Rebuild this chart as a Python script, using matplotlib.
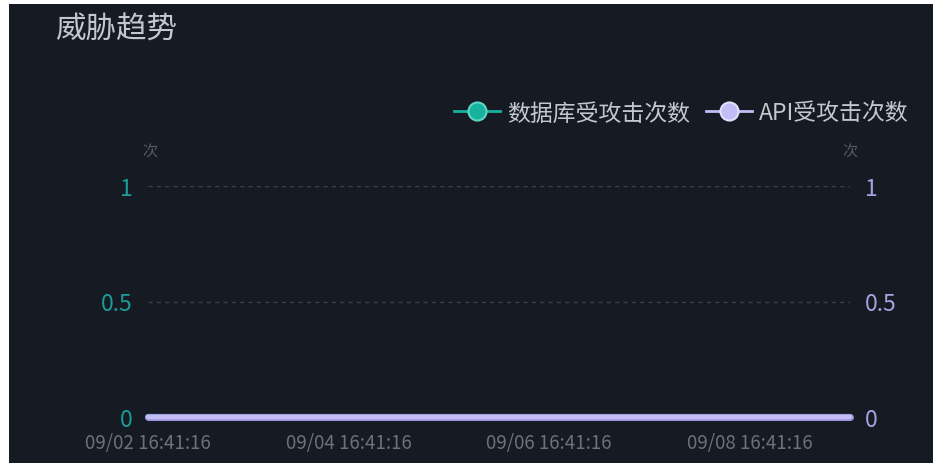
import matplotlib
matplotlib.use('Agg')
import matplotlib.pyplot as plt
from matplotlib.lines import Line2D
from matplotlib.patches import Rectangle

plt.rcParams['font.family'] = ['Noto Sans CJK SC', 'DejaVu Sans']

title = '威胁趋势'
unit = '次'
days = [0, 1, 2, 3, 4, 5, 6, 7]
db_attacks = [0, 0, 0, 0, 0, 0, 0, 0]
api_attacks = [0, 0, 0, 0, 0, 0, 0, 0]
tick_days = [0, 2, 4, 6]
tick_labels = ['09/02 16:41:16', '09/04 16:41:16', '09/06 16:41:16', '09/08 16:41:16']
y_ticks = [0, 0.5, 1]
y_labels = ['0', '0.5', '1']
series_names = ['数据库受攻击次数', 'API受攻击次数']

BG = '#151a23'
TEAL = '#17b29e'
TEAL_TXT = '#1c9c98'
LAV = '#c4bdf5'
LAV_TXT = '#a8a2e2'
GRAY = '#6c717b'


def main():
    fig = plt.figure(figsize=(9.33, 4.64), dpi=100, facecolor='white')
    fig.patches.append(Rectangle((9 / 933, 0), 1, 1 - 5 / 464, transform=fig.transFigure,
                                 facecolor=BG, edgecolor='none', zorder=-10))

    ax = fig.add_axes([148 / 933, 46 / 464, 702 / 933, 231 / 464])
    ax.set_facecolor('none')
    ax.plot(days, db_attacks, color=TEAL, lw=4.5, solid_capstyle='round', zorder=3, clip_on=False)
    ax.plot(days, api_attacks, color='#9f97e0', lw=5, solid_capstyle='round', zorder=4, clip_on=False)
    ax.plot(days, api_attacks, color=LAV, lw=3.2, solid_capstyle='round', zorder=5, clip_on=False)
    ax.set_xlim(0, 7)
    ax.set_ylim(0, 1)
    ax.set_xticks(tick_days)
    ax.set_xticklabels(tick_labels, color=GRAY, fontsize=13.5)
    ax.set_yticks(y_ticks)
    ax.set_yticklabels(y_labels, color=TEAL_TXT, fontsize=16.5)
    ax.tick_params(axis='both', length=0)
    ax.tick_params(axis='y', pad=11)
    ax.tick_params(axis='x', pad=11)
    for s in ax.spines.values():
        s.set_visible(False)
    ax.grid(axis='y', color='#3b404b', linestyle=(0, (3, 3)), lw=1)

    ax2 = ax.twinx()
    ax2.set_ylim(0, 1)
    ax2.set_yticks(y_ticks)
    ax2.set_yticklabels(y_labels, color=LAV_TXT, fontsize=16.5)
    ax2.tick_params(axis='y', length=0, pad=11)
    for s in ax2.spines.values():
        s.set_visible(False)

    fig.text(150 / 933, 1 - 152 / 464, unit, color='#555a63', fontsize=11, ha='center', va='center')
    fig.text(850 / 933, 1 - 152 / 464, unit, color='#555a63', fontsize=11, ha='center', va='center')
    fig.text(55 / 933, 1 - 30 / 464, title, color='#c4c8ce', fontsize=22, ha='left', va='center')

    handles = [
        Line2D([], [], color=TEAL, lw=2, marker='o', markersize=13,
               markerfacecolor=TEAL, markeredgecolor='#5fd6c4', markeredgewidth=1.5),
        Line2D([], [], color=LAV, lw=2, marker='o', markersize=13,
               markerfacecolor=LAV, markeredgecolor='#e3dffc', markeredgewidth=1.5),
    ]
    fig.legend(handles, series_names, loc='center right', bbox_to_anchor=(920 / 933, 1 - 114 / 464),
               ncol=2, frameon=False, fontsize=16.5, labelcolor='#c4c8ce', handlelength=2.0,
               handletextpad=0.3, columnspacing=0.7, borderpad=0)

    fig.savefig('out.png', dpi=100, facecolor=fig.get_facecolor())


if __name__ == '__main__':
    main()
